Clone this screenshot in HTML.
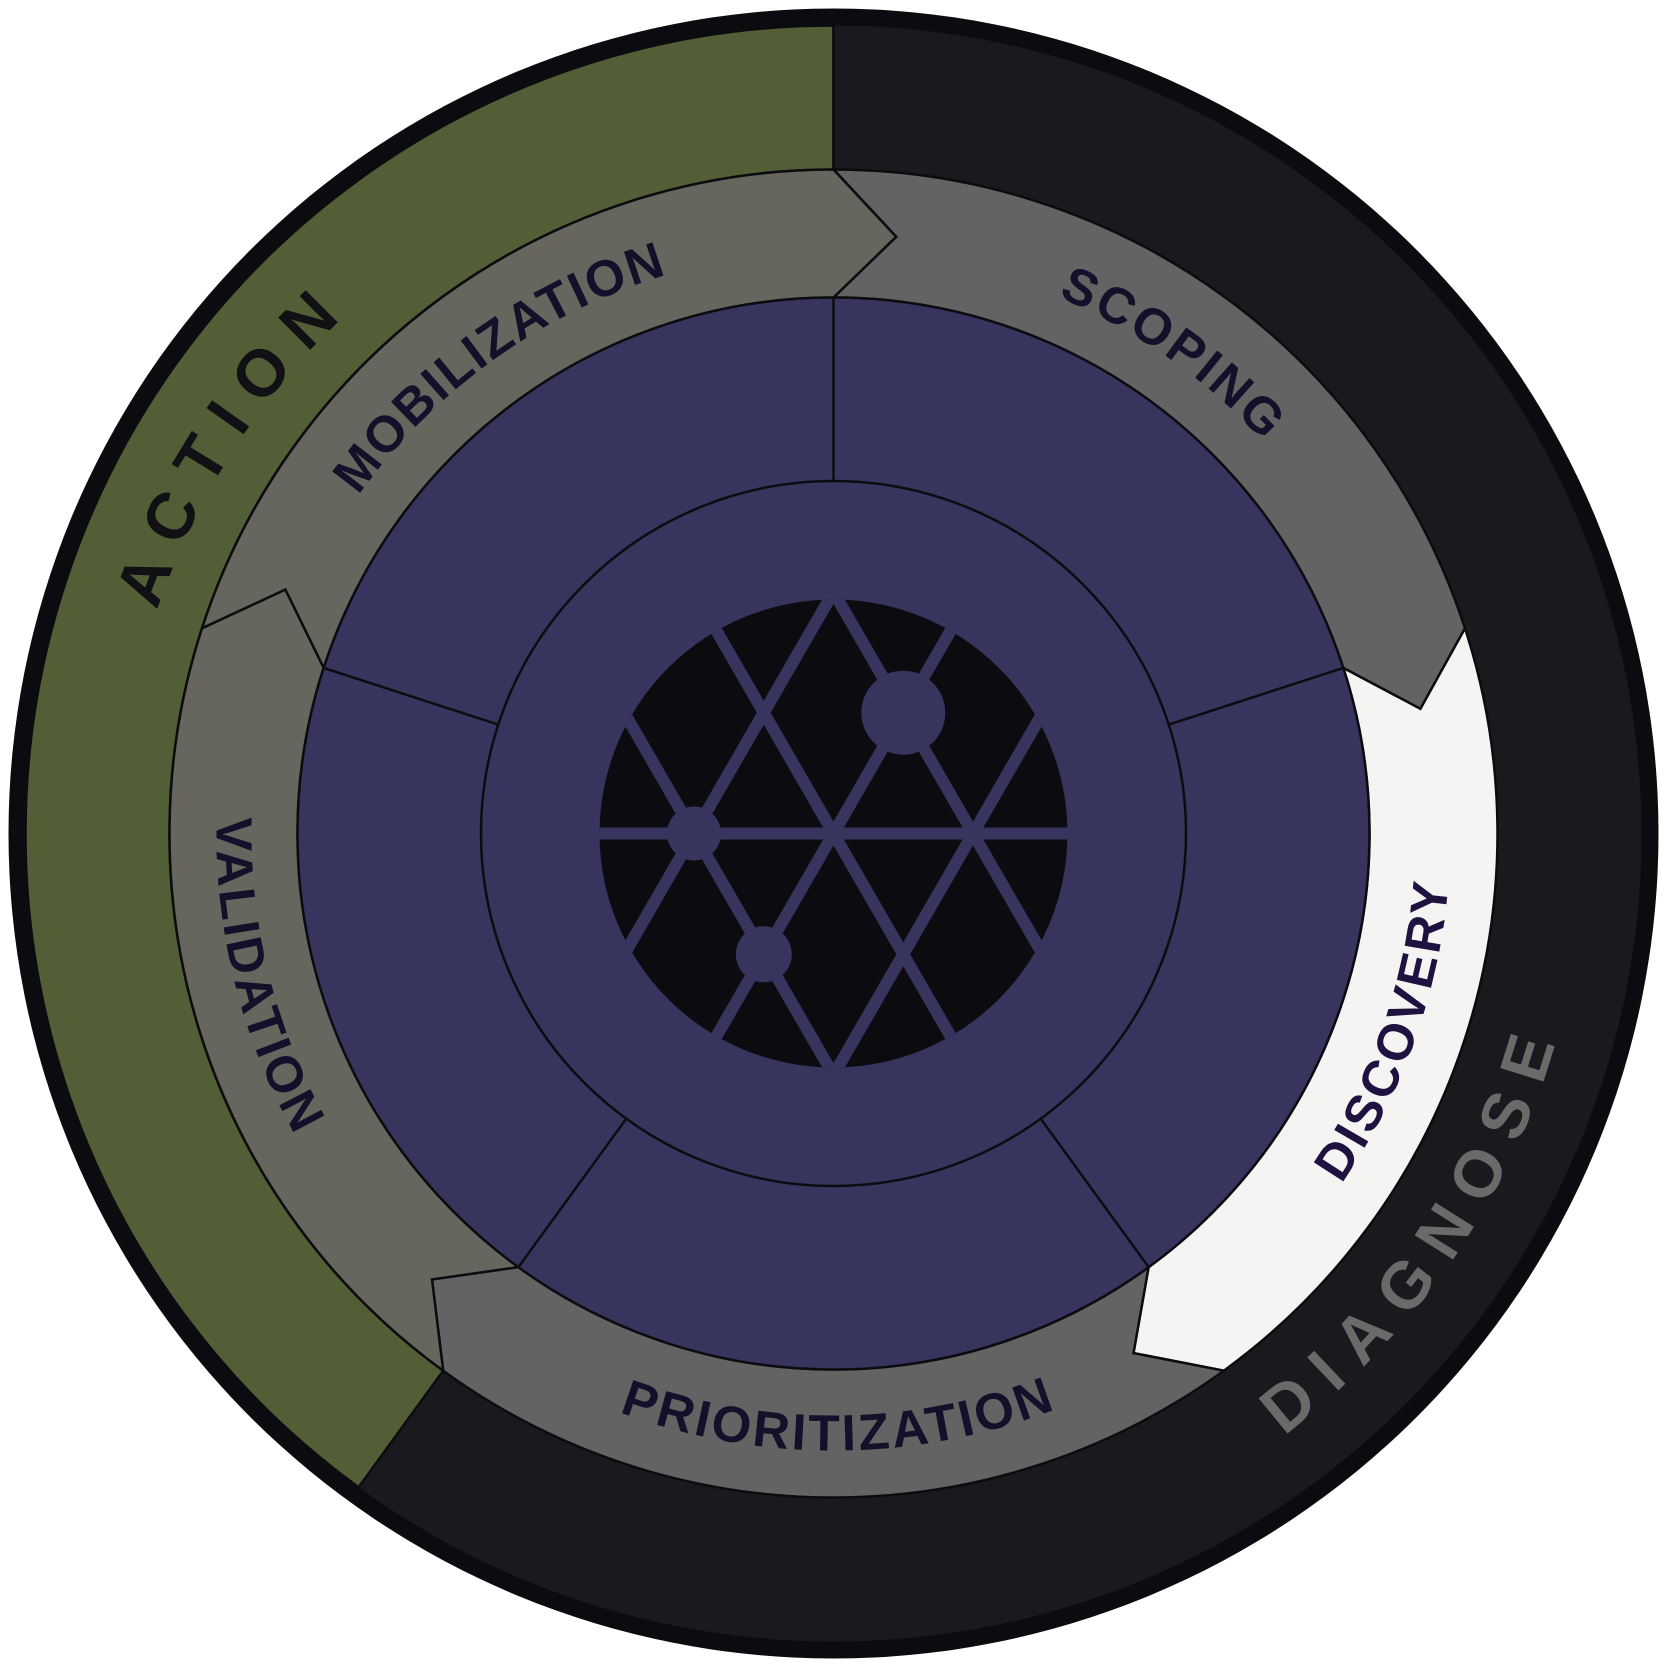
<!DOCTYPE html>
<html><head><meta charset="utf-8"><style>
html,body{margin:0;padding:0;background:#fff}
svg{display:block}
text{font-family:"Liberation Sans",sans-serif;font-weight:bold}
</style></head><body>
<svg width="1667" height="1667" viewBox="0 0 1667 1667" xmlns="http://www.w3.org/2000/svg">
<defs>
<clipPath id="cc"><circle cx="833.5" cy="833.5" r="234"/></clipPath>
<path id="pAct" d="M445.7 1430.7 A712 712 0 0 1 1221.3 236.3"/>
<path id="pMob" d="M358.9 1172.1 A583 583 0 0 1 1308.1 494.9"/>
<path id="pSco" d="M357.7 496.6 A583 583 0 0 1 1309.3 1170.4"/>
<path id="pDis" d="M627.5 1415.1 A617 617 0 0 0 1039.5 251.9"/>
<path id="pPri" d="M216.5 838.9 A617 617 0 0 0 1450.5 828.1"/>
<path id="pVal" d="M684.2 234.8 A617 617 0 0 0 982.8 1432.2"/>
<path id="pDia" d="M408.5 1463.5 A760 760 0 0 0 1258.5 203.5"/>
</defs>
<circle cx="833.5" cy="833.5" r="825" fill="#0c0c10"/>
<circle cx="833.5" cy="833.5" r="808" fill="#1a191e"/>
<path d="M358.6 1487.2 A808 808 0 0 1 833.5 25.5 L833.5 169.5 A664 664 0 0 0 443.2 1370.7 Z" fill="#525e35" stroke="#0c0c10" stroke-width="2.5"/>
<line x1="833.5" y1="25" x2="833.5" y2="170" stroke="#0c0c10" stroke-width="2.5"/>
<g stroke="#0c0c10" stroke-width="2.5" stroke-linejoin="miter">
<path d="M833.5 169.5 A664 664 0 0 1 1465 628.3 L1420.4 708.8 L1343.3 667.9 A536 536 0 0 0 833.5 297.5 L896.2 236.8 Z" fill="#636363"/>
<path d="M1465 628.3 A664 664 0 0 1 1223.8 1370.7 L1133.5 1353.1 L1148.6 1267.1 A536 536 0 0 0 1343.3 667.9 L1420.4 708.8 Z" fill="#f5f4f2"/>
<path d="M1223.8 1370.7 A664 664 0 0 1 443.2 1370.7 L432 1279.4 L518.4 1267.1 A536 536 0 0 0 1148.6 1267.1 L1133.5 1353.1 Z" fill="#636363"/>
<path d="M443.2 1370.7 A664 664 0 0 1 202 628.3 L285.4 589.5 L323.7 667.9 A536 536 0 0 0 518.4 1267.1 L432 1279.4 Z" fill="#66665f"/>
<path d="M202 628.3 A664 664 0 0 1 833.5 169.5 L896.2 236.8 L833.5 297.5 A536 536 0 0 0 323.7 667.9 L285.4 589.5 Z" fill="#66665f"/>
</g>
<circle cx="833.5" cy="833.5" r="536" fill="#37345e" stroke="#0c0c10" stroke-width="2.5"/>
<g stroke="#0c0c10" stroke-width="2.5">
<line x1="833.5" y1="297.5" x2="833.5" y2="481"/>
<line x1="1343.3" y1="667.9" x2="1168.8" y2="724.6"/>
<line x1="1148.6" y1="1267.1" x2="1040.7" y2="1118.7"/>
<line x1="518.4" y1="1267.1" x2="626.3" y2="1118.7"/>
<line x1="323.7" y1="667.9" x2="498.2" y2="724.6"/>
</g>
<circle cx="833.5" cy="833.5" r="352.5" fill="#37345e" stroke="#0c0c10" stroke-width="2.5"/>
<circle cx="833.5" cy="833.5" r="234" fill="#0c0b10"/>
<g clip-path="url(#cc)" stroke="#37345e" stroke-width="12">
<line x1="560" y1="833.5" x2="1110" y2="833.5"/>
<line x1="544" y1="573.7" x2="844" y2="1093.3"/>
<line x1="683.5" y1="573.7" x2="983.5" y2="1093.3"/>
<line x1="823" y1="573.7" x2="1123" y2="1093.3"/>
<line x1="844" y1="573.7" x2="544" y2="1093.3"/>
<line x1="983.5" y1="573.7" x2="683.5" y2="1093.3"/>
<line x1="1123" y1="573.7" x2="823" y2="1093.3"/>
</g>
<g fill="#37345e">
<circle cx="903.3" cy="712.7" r="42"/>
<circle cx="694" cy="833.5" r="27"/>
<circle cx="763.8" cy="954.3" r="28"/>
</g>
<text font-size="66" letter-spacing="19" fill="#101015"><textPath href="#pAct" startOffset="50%" text-anchor="middle">ACTION</textPath></text>
<text font-size="66" letter-spacing="19" fill="#6a6a6a"><textPath href="#pDia" startOffset="50%" text-anchor="middle">DIAGNOSE</textPath></text>
<text font-size="51" letter-spacing="2" fill="#150f2a"><textPath href="#pMob" startOffset="50%" text-anchor="middle">MOBILIZATION</textPath></text>
<text font-size="51" letter-spacing="3" fill="#150f2a"><textPath href="#pSco" startOffset="50%" text-anchor="middle">SCOPING</textPath></text>
<text font-size="51" letter-spacing="3" fill="#1e1340"><textPath href="#pDis" startOffset="50%" text-anchor="middle">DISCOVERY</textPath></text>
<text font-size="51" letter-spacing="3" fill="#150f2a"><textPath href="#pPri" startOffset="50%" text-anchor="middle">PRIORITIZATION</textPath></text>
<text font-size="51" letter-spacing="3" fill="#150f2a"><textPath href="#pVal" startOffset="50%" text-anchor="middle">VALIDATION</textPath></text>
</svg>
</body></html>
